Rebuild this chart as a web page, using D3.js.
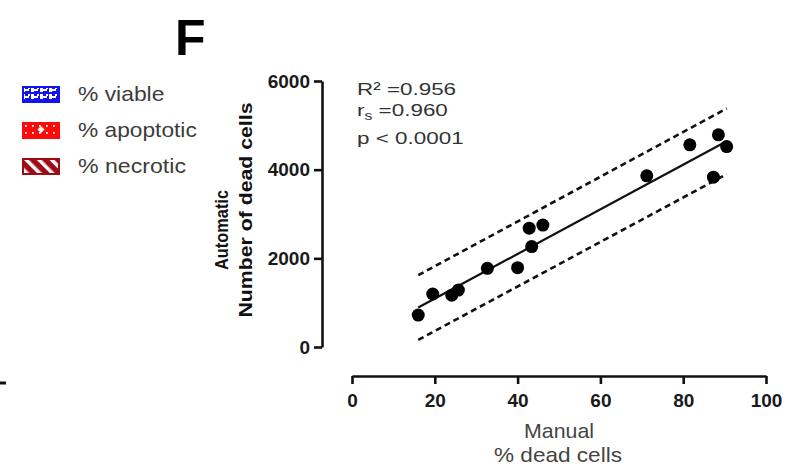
<!DOCTYPE html>
<html>
<head>
<meta charset="utf-8">
<script src="https://cdn.jsdelivr.net/npm/d3@7"></script>
<style>
  body { margin: 0; background: #fff; }
  svg { display: block; font-family: "Liberation Sans", Arial, sans-serif; }
</style>
</head>
<body>
<svg id="chart" width="787" height="467"></svg>
<script>
// Measured points: manual % dead cells vs automatic count
var manualPct = [16.0, 19.5, 24.1, 25.7, 32.7, 40.0, 43.4, 42.8, 46.1, 71.2, 81.6, 88.5, 90.5, 87.3];
var autoCount = [720, 1195, 1170, 1285, 1775, 1790, 2265, 2680, 2750, 3860, 4560, 4785, 4520, 3830];

// Linear fit and 95% prediction band (read at the ends of the data range)
var fitX = [16, 90.5];
var fitY = [890, 4640];
var upperY = [1620, 5380];
var lowerY = [160, 3900];

var xTicks = [0, 20, 40, 60, 80, 100];
var yTicks = [0, 2000, 4000, 6000];

var statR2 = "R\u00B2 =0.956";
var statRs = "=0.960";
var statP = "p < 0.0001";
var legendLabels = ["% viable", "% apoptotic", "% necrotic"];
var legendColors = ["#1414f0", "#ff0a0a", "#a00a14"];

var svg = d3.select("#chart");

var x = d3.scaleLinear().domain([0, 100]).range([352, 766]);
var y = d3.scaleLinear().domain([0, 6000]).range([347, 81]);

// Panel letter
svg.append("text")
	.attr("x", 175).attr("y", 55)
	.attr("font-size", 50).attr("font-weight", "bold")
	.text("F");

// Legend patterns
var defs = svg.append("defs");
var pBlue = defs.append("pattern").attr("id", "pBlue")
	.attr("patternUnits", "userSpaceOnUse").attr("width", 9).attr("height", 7);
pBlue.append("rect").attr("width", 9).attr("height", 7).attr("fill", legendColors[0]);
pBlue.append("path").attr("d", "M0,1h3v2h3v-2h2v2h-1v2h-4v1h-3z").attr("fill", "#fff");

var pRed = defs.append("pattern").attr("id", "pRed")
	.attr("patternUnits", "userSpaceOnUse").attr("width", 7).attr("height", 7);
pRed.append("rect").attr("width", 7).attr("height", 7).attr("fill", legendColors[1]);
pRed.append("rect").attr("x", 3).attr("y", 3).attr("width", 1.8).attr("height", 1.8).attr("fill", "#fff");

var pNec = defs.append("pattern").attr("id", "pNec")
	.attr("patternUnits", "userSpaceOnUse").attr("width", 9).attr("height", 9)
	.attr("patternTransform", "rotate(-45)");
pNec.append("rect").attr("width", 9).attr("height", 9).attr("fill", legendColors[2]);
pNec.append("rect").attr("x", 0).attr("width", 3.5).attr("height", 9).attr("fill", "#fff");

var patIds = ["url(#pBlue)", "url(#pRed)", "url(#pNec)"];

var legend = svg.append("g").selectAll("g")
	.data(legendLabels)
	.enter().append("g")
	.attr("transform", function(d, i) { return "translate(22," + (86 + i * 36) + ")"; });

legend.append("rect")
	.attr("x", 1).attr("y", 1)
	.attr("width", 36).attr("height", 15)
	.attr("fill", function(d, i) { return patIds[i]; })
	.attr("stroke", function(d, i) { return legendColors[i]; })
	.attr("stroke-width", 2);

// diamond in the apoptotic swatch
svg.append("path")
	.attr("d", "M41,126l3.5,3.5l-3.5,3.5l-3.5,-3.5z")
	.attr("fill", "#fff");

legend.append("text")
	.attr("x", 56).attr("y", 15)
	.attr("font-size", 21).attr("fill", "#3c3c3c")
	.attr("textLength", function(d) { return d.length * 10.8; })
	.attr("lengthAdjust", "spacingAndGlyphs")
	.text(function(d) { return d; });

// stray tick from the neighbouring panel
svg.append("line")
	.attr("x1", 0).attr("x2", 6).attr("y1", 383).attr("y2", 383)
	.attr("stroke", "#111").attr("stroke-width", 3);

// Axes
var yAxis = svg.append("g")
	.attr("transform", "translate(322,0)")
	.call(d3.axisLeft(y).tickValues(yTicks).tickFormat(d3.format("d"))
		.tickSize(8).tickSizeOuter(0).tickPadding(4));

var xAxis = svg.append("g")
	.attr("transform", "translate(0,376)")
	.call(d3.axisBottom(x).tickValues(xTicks).tickSize(8).tickSizeOuter(0).tickPadding(10));

[xAxis, yAxis].forEach(function(a) {
	a.select(".domain").attr("stroke", "#111").attr("stroke-width", 2.6);
	a.selectAll(".tick line").attr("stroke", "#111").attr("stroke-width", 2.6);
	a.selectAll(".tick text")
		.attr("font-family", "Liberation Sans, Arial, sans-serif")
		.attr("font-size", 19).attr("font-weight", "bold").attr("fill", "#1a1a1a");
});

// Axis titles
svg.append("text")
	.attr("x", 559).attr("y", 438)
	.attr("text-anchor", "middle").attr("font-size", 21).attr("fill", "#444")
	.attr("textLength", 70).attr("lengthAdjust", "spacingAndGlyphs")
	.text("Manual");
svg.append("text")
	.attr("x", 558).attr("y", 462)
	.attr("text-anchor", "middle").attr("font-size", 21).attr("fill", "#444")
	.attr("textLength", 128).attr("lengthAdjust", "spacingAndGlyphs")
	.text("% dead cells");

svg.append("text")
	.attr("transform", "translate(228,230) rotate(-90)")
	.attr("text-anchor", "middle").attr("font-size", 18).attr("font-weight", "bold")
	.attr("fill", "#111")
	.attr("textLength", 80).attr("lengthAdjust", "spacingAndGlyphs")
	.text("Automatic");
svg.append("text")
	.attr("transform", "translate(252,210) rotate(-90)")
	.attr("text-anchor", "middle").attr("font-size", 18).attr("font-weight", "bold")
	.attr("fill", "#111")
	.attr("textLength", 215).attr("lengthAdjust", "spacingAndGlyphs")
	.text("Number of dead cells");

// Stats text (stretched horizontally like the figure)
var stats = svg.append("g")
	.attr("transform", "translate(357,0) scale(1.32,1)")
	.attr("font-size", 17).attr("fill", "#333");
stats.append("text").attr("x", 0).attr("y", 95).text(statR2);
var rs = stats.append("text").attr("x", 0).attr("y", 116);
rs.append("tspan").text("r");
rs.append("tspan").attr("font-size", 12).attr("dy", 4).text("s");
rs.append("tspan").attr("dy", -4).text(" " + statRs);
stats.append("text").attr("x", 0).attr("y", 144).text(statP);

// Fit line and prediction bands
var line = d3.line()
	.x(function(d) { return x(d[0]); })
	.y(function(d) { return y(d[1]); });

svg.append("path")
	.attr("d", line(d3.zip(fitX, fitY)))
	.attr("fill", "none").attr("stroke", "#111").attr("stroke-width", 2.2);

[upperY, lowerY].forEach(function(band) {
	svg.append("path")
		.attr("d", line(d3.zip(fitX, band)))
		.attr("fill", "none").attr("stroke", "#111").attr("stroke-width", 2.6)
		.attr("stroke-dasharray", "6,4");
});

// Data points
svg.append("g").selectAll("circle")
	.data(d3.zip(manualPct, autoCount))
	.enter().append("circle")
	.attr("cx", function(d) { return x(d[0]); })
	.attr("cy", function(d) { return y(d[1]); })
	.attr("r", 6.5)
	.attr("fill", "#000");
</script>
</body>
</html>
